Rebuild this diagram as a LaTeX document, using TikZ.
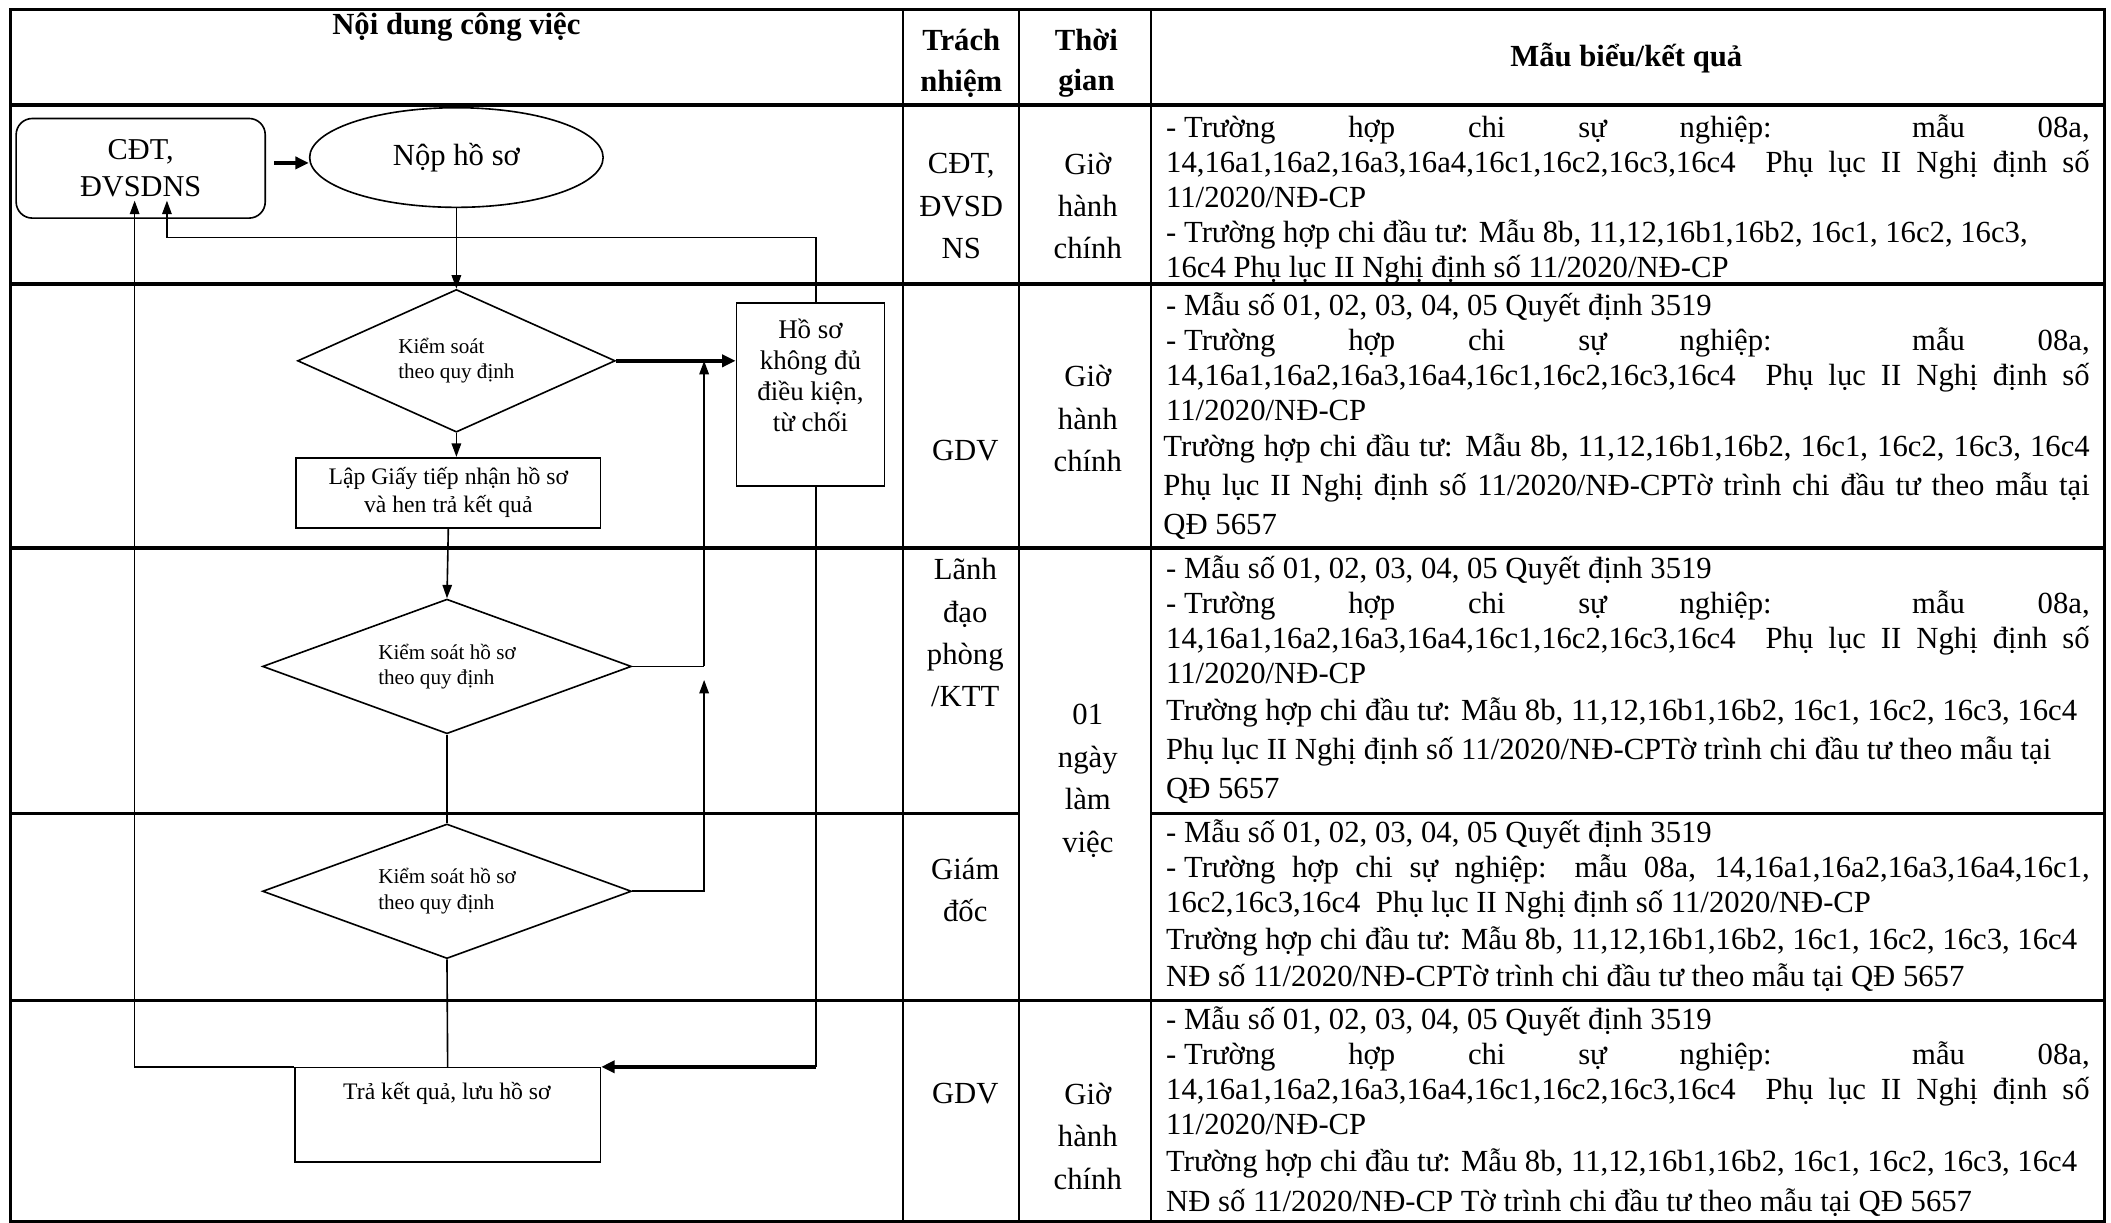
\documentclass[tikz,border=0pt]{standalone}
\usepackage{fontspec}
\setmainfont{Liberation Serif}
\usetikzlibrary{shapes.geometric,arrows.meta,calc}
\newcommand\bodyfont{\fontsize{22.8}{26}\selectfont}
\newcommand\colfont{\fontsize{22.8}{31.5}\selectfont}
\newcommand\J[1]{\makebox[\linewidth][s]{#1}}
\newcommand\D{\mbox{- Trường}}
\begin{document}
\begin{tikzpicture}[x=1pt,y=-1pt,
  tline/.style={line width=1.5pt},
  hline/.style={line width=2.4pt},
  flow/.style={line width=1.2pt},
  arr/.style={flow,-{Triangle[length=10pt,width=7pt]}},
  tarr/.style={line width=2.6pt,-{Triangle[length=10pt,width=9pt]}},
  mcell/.style={anchor=base west,inner sep=0pt},
  ccell/.style={inner sep=0pt,align=center,font=\colfont},
  fbox/.style={draw,line width=1.2pt,inner sep=0pt},
  dia/.style={draw,diamond,line width=1.2pt,inner sep=0pt,aspect=2.2,align=left,font=\fontsize{15.7}{19}\selectfont}]
\useasboundingbox (0,0) rectangle (1568,908.4);
\fill[white] (0,0) rectangle (1568,908.4);
% ---------- table ----------
\draw[hline] (8,7) rectangle (1563,907);
\draw[tline] (671,7) -- (671,907);
\draw[tline] (757,7) -- (757,907);
\draw[tline] (855,7) -- (855,907);
\draw[hline] (8,78) -- (1563,78);
\draw[hline] (8,211) -- (1563,211);
\draw[hline] (8,407) -- (1563,407);
\draw[hline] (8,604) -- (757,604);
\draw[hline] (855,604) -- (1563,604);
\draw[hline] (8,743) -- (1563,743);
% header
\node[inner sep=0pt,font=\bodyfont\bfseries] (h1) at (339,20) {Nội dung công việc};
\node[ccell,font=\fontsize{22.8}{30}\selectfont\bfseries] (h2) at (714,47) {Trách\\nhiệm};
\node[ccell,font=\fontsize{22.8}{30}\selectfont\bfseries] (h3) at (807,47) {Thời\\gian};
\node[inner sep=0pt,font=\bodyfont\bfseries] (h4) at (1208,43) {Mẫu biểu/kết quả};
% responsibility column
\node[ccell] (t1) at (714,153) {CĐT,\\ĐVSD\\NS};
\node[ccell] (t2) at (717,335) {GDV};
\node[ccell] (t3) at (717,470) {Lãnh\\đạo\\phòng\\/KTT};
\node[ccell] (t4) at (717,661) {Giám\\đốc};
\node[ccell] (t5) at (717,812) {GDV};
% time column
\node[ccell] (g1) at (808,153) {Giờ\\hành\\chính};
\node[ccell] (g2) at (808,311) {Giờ\\hành\\chính};
\node[ccell] (g3) at (808,580) {01\\ngày\\làm\\việc};
\node[ccell] (g5) at (808,844) {Giờ\\hành\\chính};
% results column
\node[mcell] (m1) at (866,102) {\parbox[t]{686pt}{\bodyfont
\J{\D{} hợp chi sự nghiệp: mẫu 08a,}\\
\J{14,16a1,16a2,16a3,16a4,16c1,16c2,16c3,16c4\ \ Phụ lục II Nghị định số}\\
11/2020/NĐ-CP\\
- Trường hợp chi đầu tư: Mẫu 8b, 11,12,16b1,16b2, 16c1, 16c2, 16c3,\\
16c4 Phụ lục II Nghị định số 11/2020/NĐ-CP}};
\node[mcell] (m2) at (864,234) {\parbox[t]{688pt}{\bodyfont
\hspace*{2pt}- Mẫu số 01, 02, 03, 04, 05 Quyết định 3519\\
\J{\kern2pt\D{} hợp chi sự nghiệp: mẫu 08a,}\\
\J{\kern2pt 14,16a1,16a2,16a3,16a4,16c1,16c2,16c3,16c4\ \ Phụ lục II Nghị định số}\\
\hspace*{2pt}11/2020/NĐ-CP\\[1pt]
\J{Trường hợp chi đầu tư: Mẫu 8b, 11,12,16b1,16b2, 16c1, 16c2, 16c3, 16c4}\\[3pt]
\J{Phụ lục II Nghị định số 11/2020/NĐ-CPTờ trình chi đầu tư theo mẫu tại}\\[3pt]
QĐ 5657}};
\node[mcell] (m3) at (864,430) {\parbox[t]{688pt}{\bodyfont
\hspace*{2pt}- Mẫu số 01, 02, 03, 04, 05 Quyết định 3519\\
\J{\kern2pt\D{} hợp chi sự nghiệp: mẫu 08a,}\\
\J{\kern2pt 14,16a1,16a2,16a3,16a4,16c1,16c2,16c3,16c4\ \ Phụ lục II Nghị định số}\\
\hspace*{2pt}11/2020/NĐ-CP\\[1pt]
\hspace*{2pt}Trường hợp chi đầu tư: Mẫu 8b, 11,12,16b1,16b2, 16c1, 16c2, 16c3, 16c4\\[3pt]
\hspace*{2pt}Phụ lục II Nghị định số 11/2020/NĐ-CPTờ trình chi đầu tư theo mẫu tại\\[3pt]
\hspace*{2pt}QĐ 5657}};
\node[mcell] (m4) at (864,626) {\parbox[t]{688pt}{\bodyfont
\hspace*{2pt}- Mẫu số 01, 02, 03, 04, 05 Quyết định 3519\\
\J{\kern2pt\D{} hợp chi sự nghiệp: mẫu 08a, 14,16a1,16a2,16a3,16a4,16c1,}\\
\hspace*{2pt}16c2,16c3,16c4\ \ Phụ lục II Nghị định số 11/2020/NĐ-CP\\[1pt]
\hspace*{2pt}Trường hợp chi đầu tư: Mẫu 8b, 11,12,16b1,16b2, 16c1, 16c2, 16c3, 16c4\\[2pt]
\hspace*{2pt}NĐ số 11/2020/NĐ-CPTờ trình chi đầu tư theo mẫu tại QĐ 5657}};
\node[mcell] (m5) at (864,765) {\parbox[t]{688pt}{\bodyfont
\hspace*{2pt}- Mẫu số 01, 02, 03, 04, 05 Quyết định 3519\\
\J{\kern2pt\D{} hợp chi sự nghiệp: mẫu 08a,}\\
\J{\kern2pt 14,16a1,16a2,16a3,16a4,16c1,16c2,16c3,16c4\ \ Phụ lục II Nghị định số}\\
\hspace*{2pt}11/2020/NĐ-CP\\[1pt]
\hspace*{2pt}Trường hợp chi đầu tư: Mẫu 8b, 11,12,16b1,16b2, 16c1, 16c2, 16c3, 16c4\\[4pt]
\hspace*{2pt}NĐ số 11/2020/NĐ-CP Tờ trình chi đầu tư theo mẫu tại QĐ 5657}};
% ---------- flowchart ----------
\node[draw,line width=1.2pt,rounded corners=12pt,minimum width=185pt,minimum height=74pt,inner sep=0pt,align=center,font=\fontsize{22.5}{27}\selectfont] (cdt) at (104.5,125) {CĐT,\\ĐVSDNS};
\node[draw,ellipse,line width=1.2pt,minimum width=218pt,minimum height=74pt,inner sep=0pt,font=\bodyfont] (nop) at (339,117) {Nộp hồ sơ};
\node[dia,minimum width=236pt,minimum height=106pt] (d1) at (339,268) {Kiểm soát\\theo quy định};
\node[fbox,minimum width=110pt,minimum height=136pt] (rej) at (602,293) {};
\node[inner sep=0pt,align=center,font=\fontsize{20}{23}\selectfont] (rejt) at (602,279) {Hồ sơ\\không đủ\\điều kiện,\\từ chối};
\node[fbox,minimum width=226pt,minimum height=52pt,align=center,font=\fontsize{17.6}{21}\selectfont] (b2) at (333,366) {Lập Giấy tiếp nhận hồ sơ\\và hen trả kết quả};
\node[dia,minimum width=274pt,minimum height=100pt] (d2) at (332,495) {Kiểm soát hồ sơ\\theo quy định};
\node[dia,minimum width=274pt,minimum height=100pt] (d3) at (332,662) {Kiểm soát hồ sơ\\theo quy định};
\node[fbox,minimum width=227pt,minimum height=70pt] (fin) at (332.5,828) {};
\node[inner sep=0pt,font=\fontsize{17.6}{21}\selectfont] (fint) at (332,812) {Trả kết quả, lưu hồ sơ};
% connectors
\coordinate (j1) at (523,268);
\coordinate (c1) at (100,149);
\coordinate (c2) at (124,149);
\coordinate (rx) at (606,0);
\draw[tarr] ($(cdt.east)+(6,-4)$) -- ($(nop.west)+(0,4)$);
\draw[arr] (nop.south) -- (d1.north);
\draw[tarr] (d1.east) -- (d1.east -| rej.west);
\draw[arr] (d1.south) -- (b2.north -| d1.south);
\draw[arr] (b2.south) -- (d2.north);
\draw[flow] (d2.south) -- (d3.north);
\draw[flow] (d3.south) -- (fin.north);
\draw[flow] (d2.east) -- (d2.east -| j1);
\draw[arr] (d3.east) -- (d3.east -| j1) -- ($(d2.east -| j1)+(0,10)$);
\draw[arr] (d2.east -| j1) -- (j1);
\draw[arr] (fin.north west) -- (fin.north west -| c1) -- (c1);
\draw[arr] (rej.north -| rx) -- ++(0,-48) -| (c2);
\draw[flow] (rej.south -| rx) -- (fin.north -| rx);
\draw[tarr] (fin.north -| rx) -- (fin.north east);
\end{tikzpicture}
\end{document}
